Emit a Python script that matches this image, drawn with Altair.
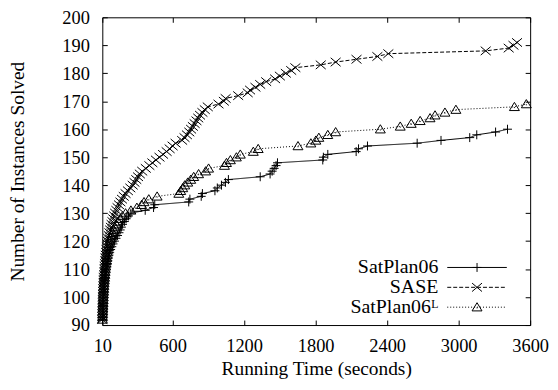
import altair as alt
import pandas as pd

FONT = "Liberation Serif, Times New Roman, Times, serif"

series_names = ["SatPlan06", "SASE", "SatPlan06ᴸ"]

# SatPlan06 : running time (s) and cumulative number of instances solved
satplan_time = [12, 13, 14, 15, 16, 17, 18, 19, 21, 23, 25, 27, 29, 31, 33, 35, 38, 41, 44, 48,
                52, 56, 61, 66, 72, 80, 90, 100, 112, 125, 138, 150, 160, 170, 180, 195, 210, 230, 250, 370,
                440, 450, 735, 745, 840, 850, 955, 975, 1010, 1043, 1068, 1335, 1418, 1435, 1452, 1468, 1480, 1860, 1865, 1902,
                2140, 2160, 2235, 2652, 2852, 3093, 3152, 3310, 3410]
satplan_solved = [92, 93, 94, 95, 96, 97, 98, 99, 100, 101, 102, 103, 104, 105, 106, 107, 108, 109, 110, 111,
                  112, 113, 114, 115, 116, 117, 118, 119, 120, 121, 122, 123, 124, 125, 126, 127, 128, 129, 130, 131,
                  132, 133, 134, 135, 136, 137, 138, 139, 140, 141, 142, 143, 144, 145, 146, 147, 148, 149, 150, 151,
                  152, 153, 154, 155, 156, 157, 158, 159, 160]

# SASE
sase_time = [10, 10.5, 11, 11.5, 12, 12.5, 13, 14, 15, 16, 17, 18, 19, 20, 21, 22, 24, 26, 28, 30,
             32, 34, 36, 39, 42, 45, 48, 52, 56, 60, 65, 70, 76, 82, 88, 95, 102, 110, 118, 128,
             138, 150, 162, 175, 190, 205, 225, 245, 265, 280, 295, 310, 325, 345, 375, 405, 430, 460, 490, 520,
             550, 575, 600, 625, 680, 700, 720, 740, 755, 770, 785, 800, 815, 830, 850, 870, 895, 985, 1030, 1045,
             1150, 1230, 1250, 1295, 1335, 1385, 1460, 1500, 1550, 1595, 1630, 1843, 1968, 2143, 2318, 2410, 3227, 3420, 3460, 3490]
sase_solved = [92, 93, 94, 95, 96, 97, 98, 99, 100, 101, 102, 103, 104, 105, 106, 107, 108, 109, 110, 111,
               112, 113, 114, 115, 116, 117, 118, 119, 120, 121, 122, 123, 124, 125, 126, 127, 128, 129, 130, 131,
               132, 133, 134, 135, 136, 137, 138, 139, 140, 141, 142, 143, 144, 145, 146, 147, 148, 149, 150, 151,
               152, 153, 154, 155, 156, 157, 158, 159, 160, 161, 162, 163, 164, 165, 166, 167, 168, 169, 170, 171,
               172, 173, 174, 175, 176, 177, 178, 179, 180, 181, 182, 183, 184, 185, 186, 187, 188, 189, 190, 191]

# SatPlan06^L
satplanL_time = [11, 12, 13, 14, 15, 16, 17, 18, 19, 20, 21, 22, 23, 25, 27, 29, 31, 33, 35, 38,
                 41, 44, 47, 50, 54, 58, 63, 68, 74, 80, 88, 96, 105, 115, 128, 142, 160, 180, 205, 250,
                 300, 340, 360, 400, 470, 652, 668, 685, 702, 727, 752, 777, 818, 877, 902, 1035, 1052, 1085, 1135, 1168,
                 1277, 1318, 1652, 1760, 1802, 1827, 1902, 1968, 2343, 2510, 2602, 2677, 2760, 2802, 2885, 2977, 3468, 3568]
satplanL_solved = [92, 93, 94, 95, 96, 97, 98, 99, 100, 101, 102, 103, 104, 105, 106, 107, 108, 109, 110, 111,
                   112, 113, 114, 115, 116, 117, 118, 119, 120, 121, 122, 123, 124, 125, 126, 127, 128, 129, 130, 131,
                   132, 133, 134, 135, 136, 137, 138, 139, 140, 141, 142, 143, 144, 145, 146, 147, 148, 149, 150, 151,
                   152, 153, 154, 155, 156, 157, 158, 159, 160, 161, 162, 163, 164, 165, 166, 167, 168, 169]

x_ticks = [10, 600, 1200, 1800, 2400, 3000, 3600]
y_ticks = [90, 100, 110, 120, 130, 140, 150, 160, 170, 180, 190, 200]

rows = []
for name, ts, vs in [(series_names[0], satplan_time, satplan_solved),
                     (series_names[1], sase_time, sase_solved),
                     (series_names[2], satplanL_time, satplanL_solved)]:
    for t, v in zip(ts, vs):
        rows.append({"series": name, "t": t, "solved": v})
df = pd.DataFrame(rows)

# ---- marker and legend symbol paths (style only) ----
marker_paths = [
    "M-0.9,0L0.9,0M0,-0.9L0,0.9",
    "M-1,-0.85L1,0.85M-1,0.85L1,-0.85",
    "M0,-0.9L1,0.75L-1,0.75ZM-0.1,0.15L0.1,0.15",
]


def seg_path(on, off, half=6.0):
    parts = []
    x = -half
    while x < half - 1e-9:
        e = min(x + on, half)
        parts.append(f"M{x:.2f},0L{e:.2f},0")
        x = e + off
    return "".join(parts)


legend_paths = [
    seg_path(12, 0) + marker_paths[0],
    seg_path(0.8, 0.4) + marker_paths[1],
    seg_path(0.2, 0.4) + marker_paths[2],
]

x_scale = alt.Scale(domain=[10, 3600], nice=False, zero=False)
y_scale = alt.Scale(domain=[90, 200], nice=False, zero=False)

common_axis = dict(grid=False, domain=False, tickColor="black", tickSize=5, offset=-5,
                   labelFont=FONT, labelColor="black", labelFontSize=18.5, labelFlush=False,
                   format="d",
                   titleFont=FONT, titleColor="black", titleFontSize=19.5, titleFontWeight="normal")

x_axis_bottom = alt.Axis(orient="bottom", values=x_ticks, title="Running Time (seconds)",
                         labelPadding=12, titlePadding=4, **common_axis)
y_axis_left = alt.Axis(orient="left", values=y_ticks, title="Number of Instances Solved",
                       labelPadding=13, titlePadding=35, **common_axis)
x_axis_top = alt.Axis(orient="top", values=x_ticks, title=None, labels=False, **common_axis)
y_axis_right = alt.Axis(orient="right", values=y_ticks, title=None, labels=False, **common_axis)

base = alt.Chart(df)

lines = base.mark_line(color="black", strokeWidth=1).encode(
    x=alt.X("t:Q", scale=x_scale, axis=x_axis_bottom),
    y=alt.Y("solved:Q", scale=y_scale, axis=y_axis_left),
    strokeDash=alt.StrokeDash("series:N",
                              scale=alt.Scale(domain=series_names, range=[[1, 0], [4, 2], [1, 2]]),
                              legend=None),
    detail="series:N",
)

points = base.mark_point(filled=False, color="black", strokeWidth=1, size=100, opacity=1).encode(
    x=alt.X("t:Q", scale=x_scale, axis=x_axis_top),
    y=alt.Y("solved:Q", scale=y_scale, axis=y_axis_right),
    shape=alt.Shape("series:N", scale=alt.Scale(domain=series_names, range=marker_paths), legend=None),
)

legend_layer = base.transform_filter("datum.t < 0").mark_point(
    filled=False, color="black", strokeWidth=1, size=100, opacity=1
).encode(
    x=alt.X("t:Q", scale=x_scale, axis=None),
    y=alt.Y("solved:Q", scale=y_scale, axis=None),
    shape=alt.Shape("series:N", scale=alt.Scale(domain=series_names, range=legend_paths),
                    legend=alt.Legend(title=None, orient="none", legendX=367.5, legendY=242,
                                      padding=0, rowPadding=0, labelFont=FONT, labelFontSize=20,
                                      labelColor="black", labelAlign="right",
                                      labelOffset=alt.ExprRef(expr="-49"),
                                      symbolOffset=0,
                                      symbolSize=100, symbolStrokeWidth=1, symbolStrokeColor="black",
                                      symbolFillColor="transparent")),
)

chart = alt.layer(lines, points, legend_layer).resolve_scale(
    shape="independent"
).resolve_axis(
    x="independent", y="independent"
).properties(
    width=431, height=310,
    autosize=alt.AutoSizeParams(type="none"),
    padding={"left": 95, "top": 8, "right": 20, "bottom": 56},
    background="white",
).configure_view(stroke="black", strokeWidth=1)

chart.save("out.html", embed_options={"renderer": "svg", "actions": False})
